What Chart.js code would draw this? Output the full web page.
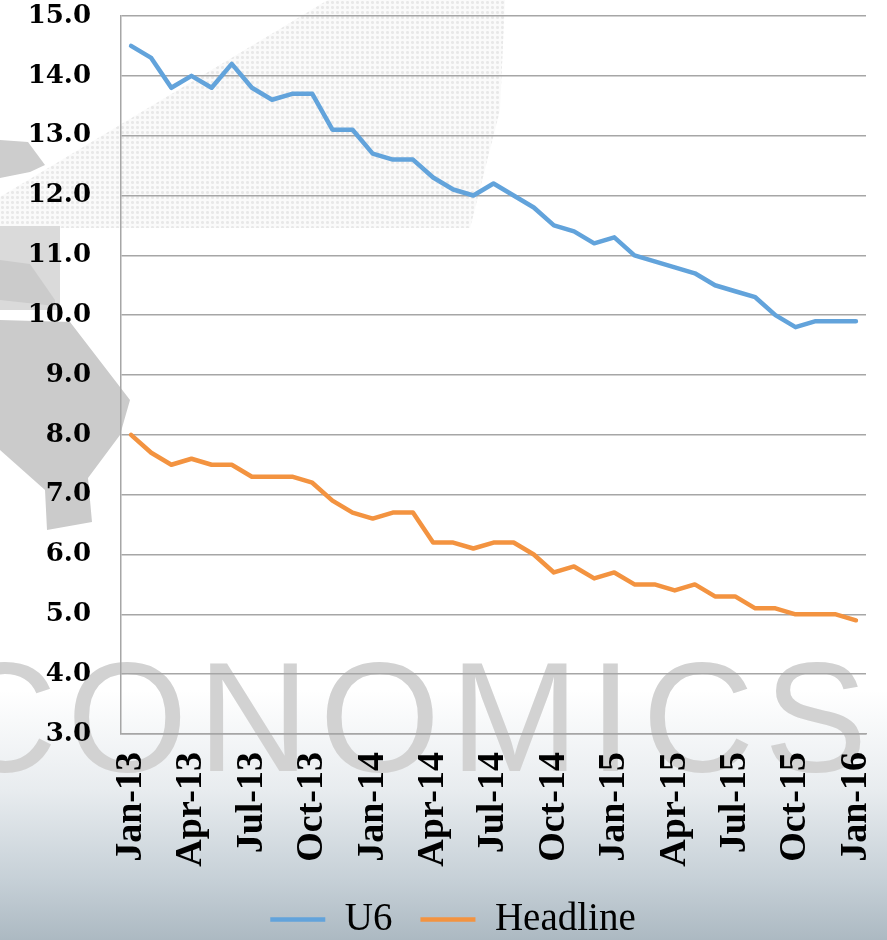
<!DOCTYPE html>
<html>
<head>
<meta charset="utf-8">
<script src="https://cdn.jsdelivr.net/npm/chart.js@4/dist/chart.umd.min.js"></script>
<style>
  html, body { margin: 0; padding: 0; }
  body {
    width: 887px; height: 940px; overflow: hidden; position: relative;
    background: linear-gradient(to bottom, #ffffff 0px, #ffffff 690px, #e8ecef 790px, #c6d0d7 880px, #acb9c2 940px);
  }
  .deco { position: absolute; }
  #dots {
    left: 0; top: 0; width: 510px; height: 228px;
    clip-path: polygon(0px 197px, 328px 0px, 505px 0px, 500px 110px, 470px 228px, 0px 228px);
    background-color: rgba(246,246,246,0.5);
    background-image: radial-gradient(circle, #e8e8e8 1.3px, transparent 1.6px);
    background-size: 5px 5px;
  }
  #shapeA { left: 0; top: 0; width: 887px; height: 940px; background: #cdcdcd;
    clip-path: polygon(0px 140px, 28px 142px, 45px 165px, 30px 172px, 0px 178px); }
  #shapeB { left: 0; top: 0; width: 887px; height: 940px; background: #dadada;
    clip-path: polygon(0px 226px, 60px 226px, 60px 310px, 0px 310px); }
  #shapeB2 { left: 0; top: 0; width: 887px; height: 940px; background: #cbcbcb;
    clip-path: polygon(0px 260px, 30px 264px, 55px 300px, 55px 306px, 0px 300px); }
  #shapeC { left: 0; top: 0; width: 887px; height: 940px; background: #cbcbcb;
    clip-path: polygon(0px 320px, 70px 322px, 130px 400px, 120px 435px, 88px 478px, 92px 522px, 47px 530px, 45px 490px, 0px 450px); }
  #wm {
    left: -55px; top: 640px; font-family: "Liberation Sans", sans-serif; font-size: 155px;
    color: #d2d2d2; letter-spacing: 10px; line-height: 1; white-space: nowrap;
  }
  #c { position: absolute; left: 0; top: 0; }
</style>
</head>
<body>
<div class="deco" id="dots"></div>
<div class="deco" id="shapeA"></div>
<div class="deco" id="shapeB"></div>
<div class="deco" id="shapeB2"></div>
<div class="deco" id="shapeC"></div>
<div class="deco" id="wm">CONOMICS</div>
<canvas id="c" width="887" height="940"></canvas>
<script>
const months = [
  "Jan-13","Feb-13","Mar-13","Apr-13","May-13","Jun-13","Jul-13","Aug-13","Sep-13","Oct-13","Nov-13","Dec-13",
  "Jan-14","Feb-14","Mar-14","Apr-14","May-14","Jun-14","Jul-14","Aug-14","Sep-14","Oct-14","Nov-14","Dec-14",
  "Jan-15","Feb-15","Mar-15","Apr-15","May-15","Jun-15","Jul-15","Aug-15","Sep-15","Oct-15","Nov-15","Dec-15",
  "Jan-16"
];
const u6 = [
  14.5, 14.3, 13.8, 14.0, 13.8, 14.2, 13.8, 13.6, 13.7, 13.7, 13.1, 13.1,
  12.7, 12.6, 12.6, 12.3, 12.1, 12.0, 12.2, 12.0, 11.8, 11.5, 11.4, 11.2,
  11.3, 11.0, 10.9, 10.8, 10.7, 10.5, 10.4, 10.3, 10.0, 9.8, 9.9, 9.9,
  9.9
];
const headline = [
  8.0, 7.7, 7.5, 7.6, 7.5, 7.5, 7.3, 7.3, 7.3, 7.2, 6.9, 6.7,
  6.6, 6.7, 6.7, 6.2, 6.2, 6.1, 6.2, 6.2, 6.0, 5.7, 5.8, 5.6,
  5.7, 5.5, 5.5, 5.4, 5.5, 5.3, 5.3, 5.1, 5.1, 5.0, 5.0, 5.0,
  4.9
];
const yMin = 3, yMax = 15, yStep = 1;
const labelEvery = 3;

const legendTweak = {
  id: 'legendTweak',
  afterInit(chart) {
    const lg = chart.legend;
    if (lg) {
      const orig = lg.fit.bind(lg);
      lg.fit = function() { orig(); this.height = 68; };
    }
  },
  afterLayout(chart) {
    const lg = chart.legend;
    if (lg) { lg.left += 20; lg.right += 20; }
  }
};

new Chart(document.getElementById('c'), {
  type: 'line',
  data: {
    labels: months,
    datasets: [
      { label: 'U6', data: u6, borderColor: '#62a3db', backgroundColor: '#62a3db',
        borderWidth: 4.5, pointRadius: 0, tension: 0, borderJoinStyle: 'round', borderCapStyle: 'round' },
      { label: 'Headline', data: headline, borderColor: '#f39340', backgroundColor: '#f39340',
        borderWidth: 4.5, pointRadius: 0, tension: 0, borderJoinStyle: 'round', borderCapStyle: 'round' }
    ]
  },
  plugins: [legendTweak],
  options: {
    responsive: false,
    animation: false,
    layout: { padding: { left: 0, right: 21, top: 16, bottom: 0 } },
    plugins: {
      tooltip: { enabled: false },
      legend: {
        position: 'bottom',
        labels: {
          usePointStyle: true, pointStyle: 'line', pointStyleWidth: 55,
          color: '#000', padding: 28,
          font: { family: '"Liberation Serif", serif', size: 39 }
        }
      }
    },
    scales: {
      x: {
        offset: true,
        grid: { display: false, drawTicks: false },
        border: { display: true, color: '#a6a6a6', width: 1.5 },
        ticks: {
          autoSkip: false, minRotation: 90, maxRotation: 90, padding: 18, color: '#000',
          font: { family: '"Liberation Serif", serif', size: 38, weight: 'bold' },
          callback: function(v, i) { return i % labelEvery === 0 ? months[i] : ''; }
        },
        afterFit: function(s) { s.height = 138; s.paddingLeft = 0; s.paddingRight = 0; }
      },
      y: {
        min: yMin, max: yMax,
        grid: { color: '#a6a6a6', lineWidth: 1.5, drawTicks: false },
        border: { display: true, color: '#a6a6a6', width: 1.5 },
        ticks: {
          stepSize: yStep, padding: 30, color: '#000',
          font: { family: '"DejaVu Serif", serif', size: 26, weight: 'bold' },
          callback: function(v) { return Number(v).toFixed(1); }
        },
        afterFit: function(s) { s.width = 121; s.paddingTop = 0; s.paddingBottom = 0; }
      }
    }
  }
});
</script>
</body>
</html>
